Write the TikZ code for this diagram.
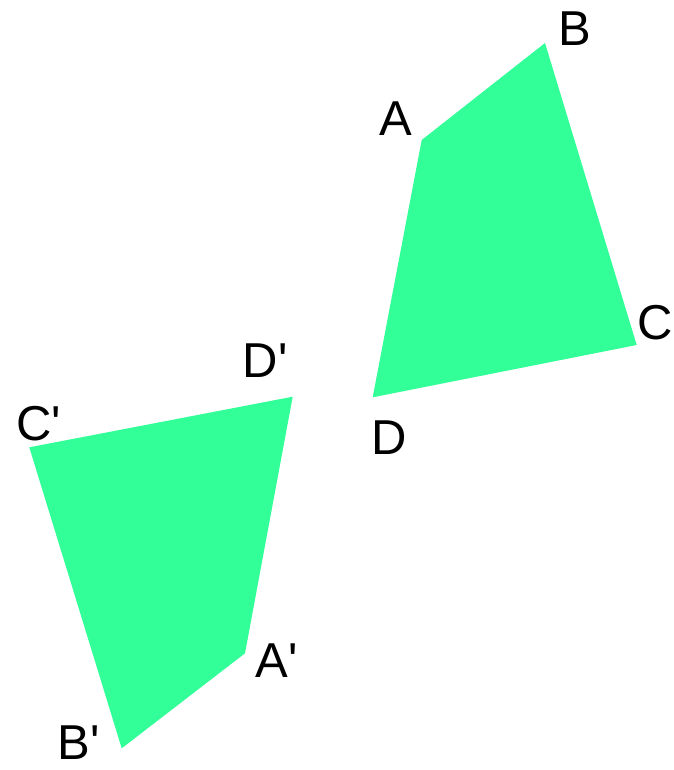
\documentclass[tikz,border=0pt]{standalone}
\usepackage{fontspec}
\setmainfont{Liberation Sans}
\definecolor{quadgreen}{HTML}{33FF99}
\begin{document}
\begin{tikzpicture}[x=1pt,y=-1pt,
  quad/.style={fill=quadgreen,draw=none},
  lbl/.style={inner sep=0pt,font=\fontsize{49}{49}\selectfont,text height=35pt,text depth=0pt,anchor=center}]
\useasboundingbox (0,0) rectangle (673,770);
% first quadrilateral
\coordinate (A) at (421.7,140);
\coordinate (B) at (545,43);
\coordinate (C) at (636.7,345);
\coordinate (D) at (372.7,397.3);
\fill[quad] (A) -- (B) -- (C) -- (D) -- cycle;
% image under the half turn
\coordinate (A2) at (245,653.3);
\coordinate (B2) at (121.7,748.3);
\coordinate (C2) at (29.3,447.3);
\coordinate (D2) at (292.7,396.7);
\fill[quad] (A2) -- (B2) -- (C2) -- (D2) -- cycle;
% labels
\node[lbl] (lA) at (395.7,118) {A};
\node[lbl] (lB) at (575.3,28) {B};
\node[lbl] (lC) at (655.5,322.3) {C};
\node[lbl] (lD) at (388.7,437.3) {D};
\node[lbl] (lD2) at (265,359.5) {D\textquotesingle};
\node[lbl] (lC2) at (38.7,423) {C\textquotesingle};
\node[lbl] (lA2) at (277,660) {A\textquotesingle};
\node[lbl] (lB2) at (78.7,742) {B\textquotesingle};
\end{tikzpicture}
\end{document}
